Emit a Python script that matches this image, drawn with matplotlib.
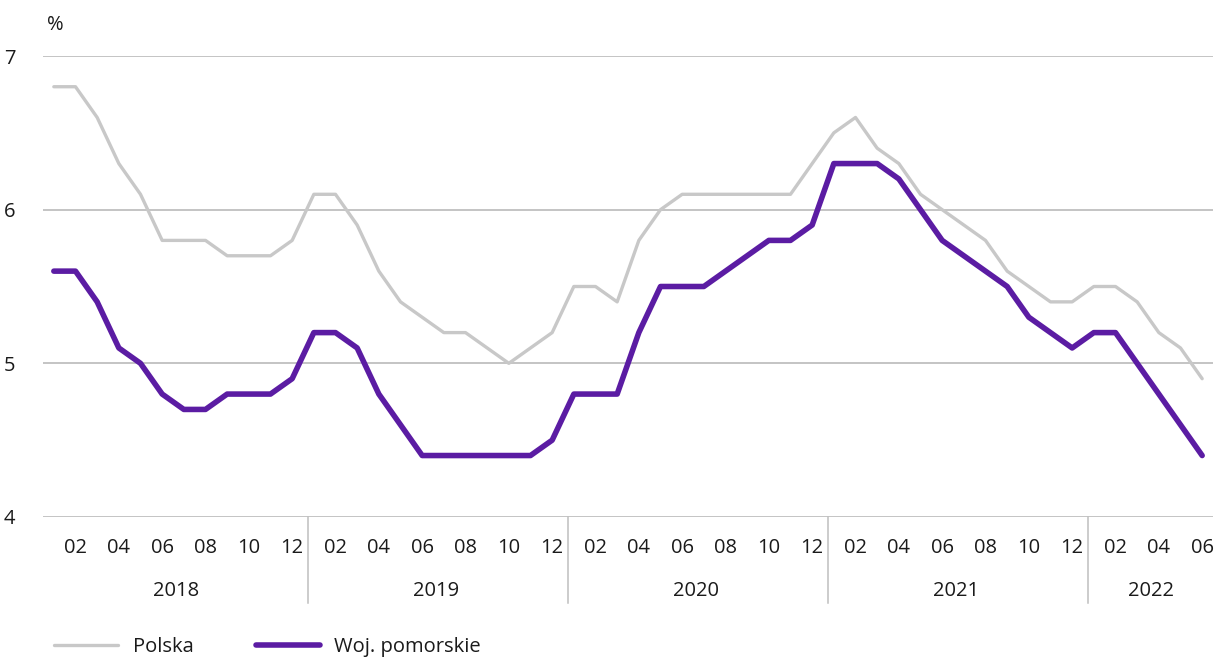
import matplotlib
matplotlib.use("Agg")
import matplotlib.pyplot as plt
import matplotlib.transforms as mtransforms
import numpy as np

plt.rcParams['font.family'] = ['Open Sans', 'DejaVu Sans']

years = ["2018", "2019", "2020", "2021", "2022"]
months_per_year = [12, 12, 12, 12, 6]
month_labels = ["02", "04", "06", "08", "10", "12"]

polska = [6.8, 6.8, 6.6, 6.3, 6.1, 5.8, 5.8, 5.8, 5.7, 5.7, 5.7, 5.8,
          6.1, 6.1, 5.9, 5.6, 5.4, 5.3, 5.2, 5.2, 5.1, 5.0, 5.1, 5.2,
          5.5, 5.5, 5.4, 5.8, 6.0, 6.1, 6.1, 6.1, 6.1, 6.1, 6.1, 6.3,
          6.5, 6.6, 6.4, 6.3, 6.1, 6.0, 5.9, 5.8, 5.6, 5.5, 5.4, 5.4,
          5.5, 5.5, 5.4, 5.2, 5.1, 4.9]
pomorskie = [5.6, 5.6, 5.4, 5.1, 5.0, 4.8, 4.7, 4.7, 4.8, 4.8, 4.8, 4.9,
             5.2, 5.2, 5.1, 4.8, 4.6, 4.4, 4.4, 4.4, 4.4, 4.4, 4.4, 4.5,
             4.8, 4.8, 4.8, 5.2, 5.5, 5.5, 5.5, 5.6, 5.7, 5.8, 5.8, 5.9,
             6.3, 6.3, 6.3, 6.2, 6.0, 5.8, 5.7, 5.6, 5.5, 5.3, 5.2, 5.1,
             5.2, 5.2, 5.0, 4.8, 4.6, 4.4]

W, H = 1218, 660
FS = 14.5
TXT = "#1a1a1a"
fig = plt.figure(figsize=(W / 100, H / 100), dpi=100)
ax = fig.add_axes([43 / W, 1 - 517 / H, (1213 - 43) / W, (517 - 56) / H])

x = np.arange(len(polska))
grid_c = "#BFBFBF"
for v in [4, 5, 6, 7]:
    ax.axhline(v, color=grid_c, lw=1.3, zorder=1)

ax.plot(x, polska, color="#C8C8C8", lw=2.4, solid_capstyle="round",
        solid_joinstyle="round", zorder=3, label="Polska")
ax.plot(x, pomorskie, color="#5B1CA3", lw=4.0, solid_capstyle="round",
        solid_joinstyle="round", zorder=4, label="Woj. pomorskie")

ax.set_xlim(-0.5, len(polska) - 0.5)
ax.set_ylim(4, 7)
for s in ax.spines.values():
    s.set_visible(False)
ax.set_yticks([4, 5, 6, 7])
ax.set_yticklabels(["4", "5", "6", "7"], fontsize=FS, color=TXT)
ax.tick_params(axis="y", length=0, pad=20)
ax.set_xticks([])

trans = mtransforms.blended_transform_factory(ax.transData, ax.transAxes)
axh = 517 - 56
start = 0
for yi, (yr, n) in enumerate(zip(years, months_per_year)):
    for m in range(2, n + 1, 2):
        ax.text(start + m - 1, -31 / axh, month_labels[m // 2 - 1], transform=trans,
                ha="center", va="center", fontsize=FS, color=TXT)
    ax.text(start + (n - 1) / 2 + 0.15, -74 / axh, yr, transform=trans,
            ha="center", va="center", fontsize=FS, color=TXT)
    start += n
    if yi < len(years) - 1:
        ax.plot([start - 0.27, start - 0.27], [0, -86 / axh], transform=trans,
                color=grid_c, lw=1.1, clip_on=False)

fig.text(55 / W, 1 - 25 / H, "%", fontsize=FS, ha="center", va="center", color=TXT)

fig.legend(loc="center left", bbox_to_anchor=(54 / W, 1 - 647 / H), ncol=2,
           frameon=False, fontsize=FS, handlelength=3.2, handletextpad=0.7,
           columnspacing=3.1, labelcolor=TXT, borderaxespad=0, borderpad=0)

fig.savefig("out.png", dpi=100)
